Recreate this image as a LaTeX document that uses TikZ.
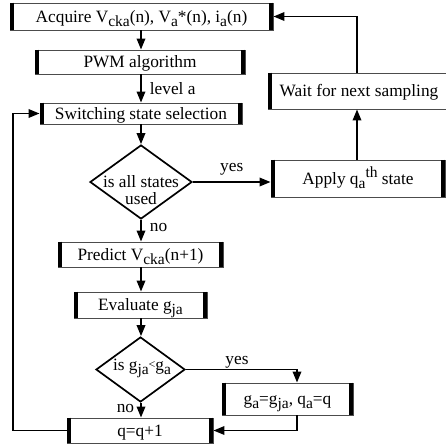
\documentclass[tikz,border=0pt]{standalone}
\usepackage{fontspec}
\setmainfont{Liberation Serif}
\usetikzlibrary{shapes.geometric,arrows.meta,calc}
\newcommand\sbs[1]{\raisebox{-4pt}{\fontsize{15.5}{15.5}\selectfont #1}}
\newcommand\sps[1]{\raisebox{6.5pt}{\fontsize{15.5}{15.5}\selectfont #1}}
\begin{document}
\begin{tikzpicture}[x=1pt,y=-1pt,
  every node/.style={font=\fontsize{17.3}{17}\selectfont, inner sep=0pt},
  proc/.style={draw=black!70, line width=0.9pt, fill=white, text height=15pt, text depth=3.5pt},
  dia/.style={diamond, draw, line width=1.7pt, fill=white},
  bar/.style={line width=4.5pt},
  arr/.style={line width=1.8pt, -{Triangle[length=11pt,width=8.5pt]}}]
\fill[white] (0,0) rectangle (445,447);
\useasboundingbox (0,0) rectangle (445,447);

% process boxes
\node[proc, minimum width=263pt, minimum height=27pt] (acq) at (141.5,16.5) {Acquire V\sbs{cka}(n), V\sbs{a}*(n), i\sbs{a}(n)};
\node[proc, minimum width=210pt, minimum height=24pt] (pwm) at (140,62) {PWM algorithm};
\node[proc, minimum width=202pt, minimum height=21pt] (sel) at (141,113.5) {Switching state selection};
\node[proc, minimum width=174pt, minimum height=37pt] (apply) at (358,178.5) {Apply q\sbs{a}\sps{th} state};
\node[proc, minimum width=182pt, minimum height=36pt] (wait) at (359,91) {Wait for next sampling};
\node[proc, minimum width=165pt, minimum height=25pt] (pred) at (140.5,254.5) {Predict V\sbs{cka}(n+1)};
\node[proc, minimum width=133pt, minimum height=26pt] (eval) at (140.5,305) {Evaluate g\sbs{ja}};
\node[proc, minimum width=131pt, minimum height=32pt] (gq) at (287.5,399) {g\sbs{a}=g\sbs{ja}, q\sbs{a}=q};
\node[proc, minimum width=146pt, minimum height=25pt] (qq) at (140,430.5) {q=q+1};

% decisions
\node[dia, minimum width=102pt, minimum height=74pt] (d1) at (141,182) {};
\node[align=center] (d1t) at (141,190) {is all states\\used};
\node[dia, minimum width=89pt, minimum height=65pt] (d2) at (140.5,369.5) {};
\node (d2t) at (142,368) {is g\sbs{ja}\raisebox{2pt}{\fontsize{12}{12}\selectfont<}g\sbs{a}};

% thick side bars
\foreach \n in {acq,pwm,sel,apply,wait,pred,eval,gq,qq}{
  \draw[bar] ([xshift=2.25pt]\n.north west) -- ([xshift=2.25pt]\n.south west);
  \draw[bar] ([xshift=-2.25pt]\n.north east) -- ([xshift=-2.25pt]\n.south east);
}

% connectors
\coordinate (lpx) at (13,0);
\coordinate (vx) at (357,0);
\draw[arr] (acq.south -| d1.north) -- (pwm.north -| d1.north);
\draw[arr] (pwm.south -| d1.north) -- node[right=8pt] (lvl) {level a} (sel.south |- sel.north);
\draw[arr] (sel.south) -- (d1.north);
\draw[arr] (d1.east) -- node[above=6pt] (y1) {yes} (apply.west |- d1.east);
\draw[arr] (d1.south) -- node[right=8pt, pos=0.35] (n1) {no} (pred.north -| d1.south);
\draw[arr] (pred.south -| d1.south) -- (eval.north -| d1.south);
\draw[arr] (eval.south -| d1.south) -- (d2.north -| d1.south);
\draw[arr] (d2.south -| d1.south) -- node[left=6pt, pos=0.4] (n2) {no} (qq.north -| d1.south);
\draw[arr] (d2.east) -| node[above=0pt, pos=0.23] (y2) {yes} ([xshift=9.5pt]gq.north);
\draw[arr] ([xshift=9.5pt]gq.south) |- (qq.east);
\draw[arr] (qq.west) -- (qq.west -| lpx) |- (sel.west);
\draw[arr] (apply.north -| vx) -- (wait.south -| vx);
\draw[arr] (wait.north -| vx) |- (acq.east);
\end{tikzpicture}
\end{document}
